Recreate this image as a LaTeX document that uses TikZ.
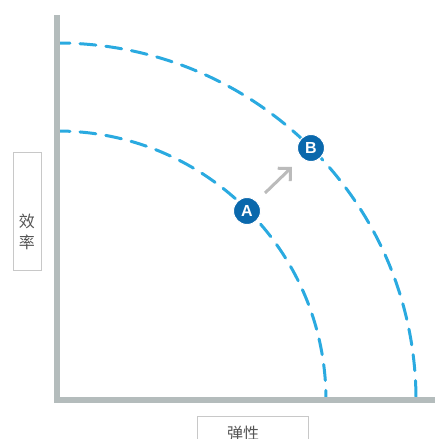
\documentclass[tikz,border=0pt]{standalone}
\usepackage{fontspec}
\newfontfamily\cjk{Noto Sans CJK SC}
\setmainfont{Liberation Sans}
\usetikzlibrary{arrows.meta}
\definecolor{axisgray}{HTML}{B4BCBC}
\definecolor{dashblue}{HTML}{2AAAE0}
\definecolor{dotblue}{HTML}{0A68AC}
\definecolor{boxgray}{HTML}{C8C8C8}
\definecolor{txtgray}{HTML}{555555}
\definecolor{arrgray}{HTML}{BBBBBB}
\tikzset{
  axisline/.style={draw=axisgray, line width=6pt},
  curve/.style={draw=dashblue, line width=3pt, dash pattern=on 16pt off 10pt, line cap=round},
  dot/.style={circle, fill=dotblue, draw=white, line width=1pt, minimum size=27pt, inner sep=0pt, text=white, font=\bfseries\fontsize{16}{16}\selectfont},
}
\begin{document}
\begin{tikzpicture}[x=1pt, y=-1pt]
\useasboundingbox (0,0) rectangle (435,439);
\coordinate (O) at (57,400);
% curves
\draw[curve, dash phase=3pt] (57,131) arc[start angle=90, end angle=0, x radius=269, y radius=-269];
\draw[curve, dash phase=3pt] (57,43) arc[start angle=90, end angle=0, x radius=359, y radius=-357];
% axes
\draw[axisline] (57,15) -- (57,403);
\draw[axisline] (54,400) -- (436,400);
% points
\node[dot] (A) at (247,211) {A};
\node[dot] (B) at (311,148) {B};
\coordinate (a1) at (265,193);
\coordinate (a2) at (292,167);
\draw[arrgray, line width=3pt, -{Straight Barb[length=9pt, width=18pt, line width=3pt]}] (a1) -- (a2);
% label boxes
\draw[boxgray, line width=0.8pt] (13,152) rectangle (41,270);
\node[text=txtgray, font=\cjk\fontsize{16}{21}\selectfont, align=center] (eff) at (27,232) {效\\率};
\draw[boxgray, line width=0.8pt] (197,445) -- (197,416) -- (308,416) -- (308,445);
\node[text=txtgray, font=\cjk\fontsize{16}{18}\selectfont] (ela) at (243,433) {弹性};
\end{tikzpicture}
\end{document}
